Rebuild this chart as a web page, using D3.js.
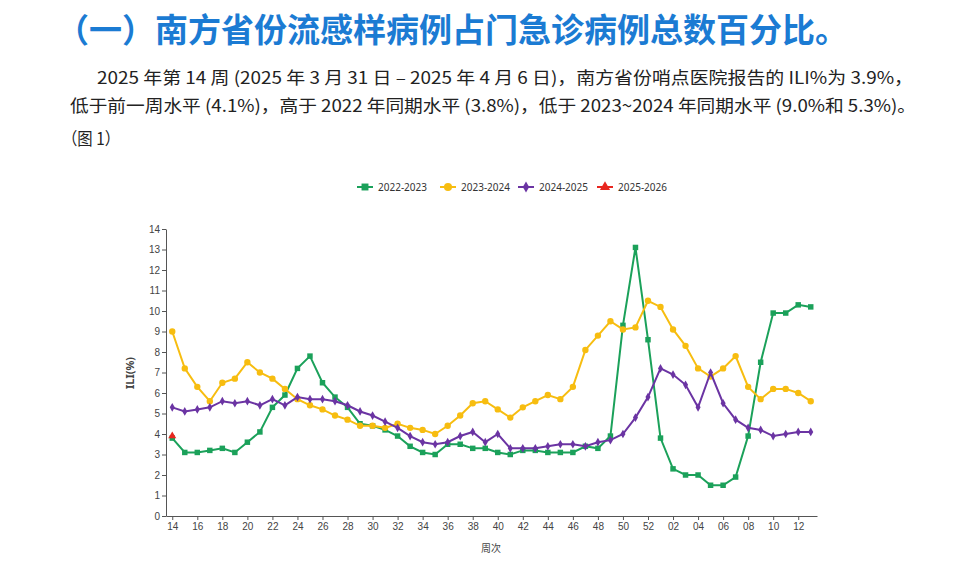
<!DOCTYPE html>
<html>
<head>
<meta charset="utf-8">
<script src="https://cdn.jsdelivr.net/npm/d3@7"></script>
<style>
  body { margin: 0; background: #fff; }
  svg { display: block; font-family: "Noto Sans", "Noto Sans CJK SC", sans-serif; }
  .axis text { fill: #444; font-size: 10px; }
  .axis path, .axis line { stroke: #555; }
</style>
</head>
<body>
<div id="chart"></div>
<script>
const width = 980;
const height = 565;

// week labels, 2 digit, week 14 of one year to week 13 of the next
const weeks = ['14','15','16','17','18','19','20','21','22','23','24','25','26','27','28','29','30','31','32','33',
  '34','35','36','37','38','39','40','41','42','43','44','45','46','47','48','49','50','51','52',
  '01','02','03','04','05','06','07','08','09','10','11','12','13'];
const tickWeeks = weeks.filter((d, i) => i % 2 === 0);

const season2022 = [3.8,3.1,3.1,3.2,3.3,3.1,3.6,4.1,5.3,5.9,7.2,7.8,6.5,5.8,5.3,4.5,4.4,4.2,3.9,3.4,
  3.1,3.0,3.5,3.5,3.3,3.3,3.1,3.0,3.2,3.2,3.1,3.1,3.1,3.4,3.3,3.9,9.3,13.1,8.6,
  3.8,2.3,2.0,2.0,1.5,1.5,1.9,3.9,7.5,9.9,9.9,10.3,10.2];
const season2023 = [9.0,7.2,6.3,5.6,6.5,6.7,7.5,7.0,6.7,6.2,5.7,5.4,5.2,4.9,4.7,4.4,4.4,4.3,4.5,4.3,
  4.2,4.0,4.4,4.9,5.5,5.6,5.2,4.8,5.3,5.6,5.9,5.7,6.3,8.1,8.8,9.5,9.1,9.2,10.5,
  10.2,9.1,8.3,7.2,6.8,7.2,7.8,6.3,5.7,6.2,6.2,6.0,5.6];
const season2024 = [5.3,5.1,5.2,5.3,5.6,5.5,5.6,5.4,5.7,5.4,5.8,5.7,5.7,5.6,5.4,5.1,4.9,4.6,4.3,3.9,
  3.6,3.5,3.6,3.9,4.1,3.6,4.0,3.3,3.3,3.3,3.4,3.5,3.5,3.4,3.6,3.7,4.0,4.8,5.8,
  7.2,6.9,6.4,5.3,7.0,5.5,4.7,4.3,4.2,3.9,4.0,4.1,4.1];
const season2025 = [3.9];

const seriesNames = ['2022-2023', '2023-2024', '2024-2025', '2025-2026'];
const yTicks = d3.range(0, 15);

const series = [
  { name: seriesNames[0], values: season2022, color: '#1ba15a', symbol: d3.symbolSquare, size: 30 },
  { name: seriesNames[1], values: season2023, color: '#f7bd10', symbol: d3.symbolCircle, size: 32 },
  { name: seriesNames[2], values: season2024, color: '#6b34a3', symbol: d3.symbolDiamond, size: 22 },
  { name: seriesNames[3], values: season2025, color: '#e8261f', symbol: d3.symbolTriangle, size: 28 }
];

const svg = d3.select('#chart').append('svg')
  .attr('width', width)
  .attr('height', height);

// heading and text above the chart
svg.append('text')
  .attr('x', 56)
  .attr('y', 42)
  .attr('textLength', 792)
  .attr('lengthAdjust', 'spacingAndGlyphs')
  .style('font-family', '"Noto Sans CJK SC", sans-serif')
  .style('font-weight', 'bold')
  .style('font-size', '33px')
  .attr('fill', '#1b7bd3')
  .text('（一）南方省份流感样病例占门急诊病例总数百分比。');

const para = [
  { text: '2025 年第 14 周 (2025 年 3 月 31 日 – 2025 年 4 月 6 日)，南方省份哨点医院报告的 ILI%为 3.9%，', x: 97, y: 84, len: 816 },
  { text: '低于前一周水平 (4.1%)，高于 2022 年同期水平 (3.8%)，低于 2023~2024 年同期水平 (9.0%和 5.3%)。', x: 70, y: 112, len: 846 },
  { text: '（图 1）', x: 62, y: 145, len: 58 }
];
svg.selectAll('text.para')
  .data(para)
  .join('text')
  .attr('class', 'para')
  .attr('x', d => d.x)
  .attr('y', d => d.y)
  .attr('textLength', d => d.len)
  .attr('lengthAdjust', 'spacingAndGlyphs')
  .style('font-family', '"Noto Sans CJK SC", sans-serif')
  .style('font-size', '17px')
  .attr('fill', '#222')
  .text(d => d.text);

// chart area
const xScale = d3.scalePoint()
  .domain(weeks)
  .range([166, 817])
  .padding(0.5);
const yScale = d3.scaleLinear()
  .domain([0, 14])
  .range([516, 229]);

svg.append('g')
  .attr('class', 'axis')
  .attr('transform', 'translate(0,516)')
  .call(d3.axisBottom(xScale).tickValues(tickWeeks).tickSize(4).tickSizeOuter(0).tickPadding(3));

svg.append('g')
  .attr('class', 'axis')
  .attr('transform', 'translate(166,0)')
  .call(d3.axisLeft(yScale).tickValues(yTicks).tickSize(4).tickSizeOuter(0).tickPadding(2));

svg.append('text')
  .attr('transform', 'translate(134,373) rotate(-90)')
  .attr('text-anchor', 'middle')
  .style('font-size', '11px')
  .style('font-weight', 'bold')
  .attr('fill', '#444')
  .text('ILI(%)');

svg.append('text')
  .attr('x', 491)
  .attr('y', 552)
  .attr('text-anchor', 'middle')
  .style('font-family', '"Noto Sans CJK SC", sans-serif')
  .style('font-size', '10px')
  .attr('fill', '#444')
  .text('周次');

// lines and markers
const line = d3.line()
  .x((d, i) => xScale(weeks[i]))
  .y(d => yScale(d));

series.forEach(s => {
  const g = svg.append('g');
  g.append('path')
    .datum(s.values)
    .attr('d', line)
    .attr('fill', 'none')
    .attr('stroke', s.color)
    .attr('stroke-width', 2);
  g.selectAll('path.pt')
    .data(s.values)
    .join('path')
    .attr('class', 'pt')
    .attr('d', d3.symbol().type(s.symbol).size(s.size))
    .attr('transform', (d, i) => `translate(${xScale(weeks[i])},${yScale(d)})`)
    .attr('fill', s.color);
});

// legend
const legendX = [357, 440, 518, 597];
const legend = svg.append('g').attr('transform', 'translate(0,187)');
series.forEach((s, i) => {
  const item = legend.append('g').attr('transform', `translate(${legendX[i]},0)`);
  item.append('line')
    .attr('x1', 0).attr('x2', 16)
    .attr('stroke', s.color)
    .attr('stroke-width', 2);
  item.append('path')
    .attr('d', d3.symbol().type(s.symbol).size(s.size * 1.6))
    .attr('transform', 'translate(8,0)')
    .attr('fill', s.color);
  item.append('text')
    .attr('x', 21)
    .attr('dy', '0.35em')
    .style('font-size', '10px')
    .attr('fill', '#333')
    .text(s.name);
});
</script>
</body>
</html>
